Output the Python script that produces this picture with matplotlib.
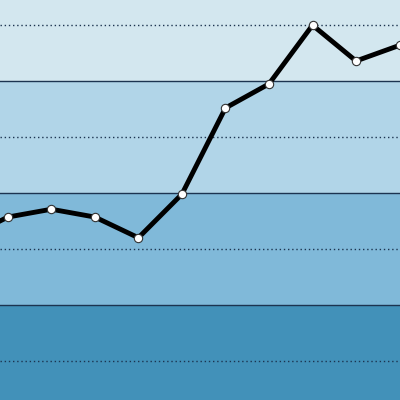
import matplotlib
matplotlib.use('Agg')
from matplotlib import pyplot as plt

# values (index -1 sits just left of the visible area)
idx = [-1, 0, 1, 2, 3, 4, 5, 6, 7, 8, 9]
vals = [2.18, 2.57, 2.71, 2.57, 2.20, 2.98, 4.52, 4.95, 6.0, 5.36, 5.64]

bands = [(-1, 1, '#4291b9'), (1, 3, '#80b9d9'), (3, 5, '#b1d5e8'), (5, 7, '#d3e7ef')]
solid_lines = [1, 3, 5]
dotted_lines = [0, 2, 4, 6]

fig = plt.figure(figsize=(4, 4), dpi=100)
ax = fig.add_axes([0, 0, 1, 1])

for lo, hi, c in bands:
    ax.axhspan(lo, hi, color=c, lw=0, zorder=0)
for y in solid_lines:
    ax.axhline(y, color='#1c3450', lw=1.0, zorder=1)
for y in dotted_lines:
    ax.axhline(y, color='#1c3450', lw=1.0, ls=(0, (1, 2)), zorder=1)

ax.plot(idx, vals, color='black', lw=3.5, marker='o', ms=6,
        mfc='white', mec='#333333', mew=0.8, zorder=3)

ax.set_xlim(-0.18, 9.01)
ax.set_ylim(-0.70, 6.45)
ax.axis('off')

fig.savefig('out.png', dpi=100)
